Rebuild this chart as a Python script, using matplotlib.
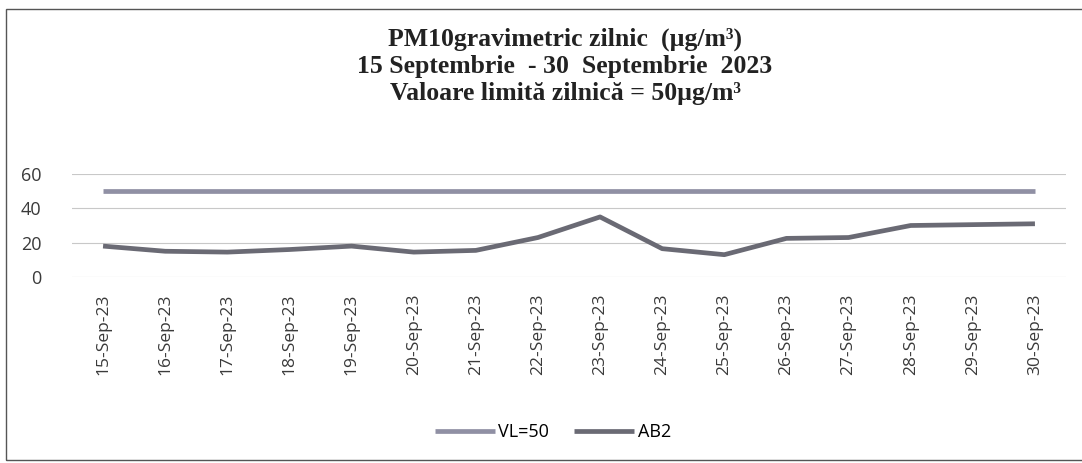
import matplotlib.pyplot as plt
from matplotlib.patches import Rectangle

# Data
dates = ['15-Sep-23', '16-Sep-23', '17-Sep-23', '18-Sep-23', '19-Sep-23',
         '20-Sep-23', '21-Sep-23', '22-Sep-23', '23-Sep-23', '24-Sep-23',
         '25-Sep-23', '26-Sep-23', '27-Sep-23', '28-Sep-23', '29-Sep-23',
         '30-Sep-23']
vl50 = [50] * 16
ab2 = [18, 15, 14.5, 16, 18, 14.5, 15.5, 23, 35, 16.5, 13, 22.5, 23, 30, 30.5, 31]
yticks = [0, 20, 40, 60]

fig = plt.figure(figsize=(10.82, 4.63), dpi=100)
ax = fig.add_axes([72 / 1082, 1 - 277 / 463, (1066 - 72) / 1082, (277 - 174) / 463])

x = range(len(dates))
ax.plot(x, vl50, color='#9090a4', lw=3.4, label='VL=50', solid_capstyle='butt')
ax.plot(x, ab2, color='#6a6a74', lw=3.4, label='AB2', solid_capstyle='butt')

ax.set_xlim(-0.5, len(dates) - 0.5)
ax.set_ylim(0, 60)
ax.set_yticks(yticks)
ax.set_xticks(list(x))
ax.set_xticklabels(dates, rotation=90, fontsize=12.5, family='Open Sans', color='#3a3a3a')
ax.tick_params(axis='y', length=0, pad=22, labelsize=13, labelcolor='#3a3a3a')
ax.tick_params(axis='x', length=0, pad=12)
for lbl in ax.get_yticklabels():
    lbl.set_family('Open Sans')
ax.grid(axis='y', color='#c8c8c8', lw=0.8)
ax.set_axisbelow(True)
for s in ax.spines.values():
    s.set_visible(False)

fig.text(565 / 1082, 1 - 28 / 463,
         'PM10gravimetric zilnic  (µg/m³)\n15 Septembrie  - 30  Septembrie  2023\nValoare limită zilnică = 50µg/m³',
         ha='center', va='top', family='Liberation Serif', fontweight='bold',
         fontsize=18.5, color='#222222', linespacing=1.2)

fig.legend(loc='center', bbox_to_anchor=(553 / 1082, 1 - 432 / 463), ncol=2,
           frameon=False, handlelength=3.3, columnspacing=1.4, handletextpad=0.2,
           prop={'family': 'Open Sans', 'size': 13})

# outer chart frame
fig.patches.append(Rectangle((6 / 1082, 3 / 463), 1.1, (460 - 9) / 463,
                             transform=fig.transFigure, fill=False,
                             edgecolor='#555555', lw=1.0))

fig.savefig('out.png', dpi=100)
